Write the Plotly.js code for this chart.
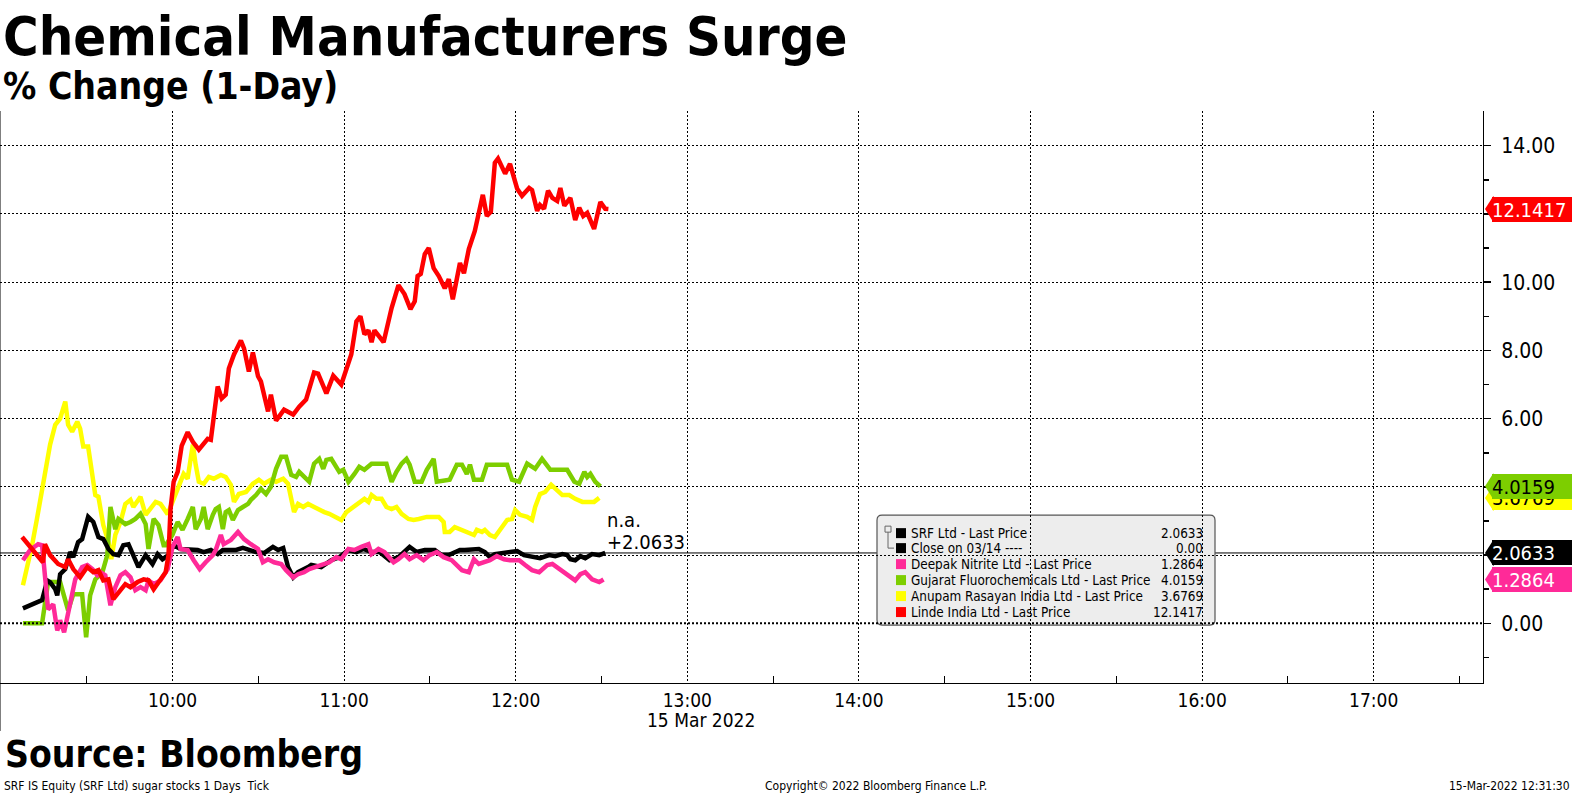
<!DOCTYPE html>
<html>
<head>
<meta charset="utf-8">
<script src="https://cdn.plot.ly/plotly-3.0.1.min.js"></script>
<style>html,body{margin:0;padding:0;background:#fff;}#chart{width:1575px;height:796px;}</style>
</head>
<body>
<div id="chart"></div>
<script>
// ---------- DATA (minutes after 09:00 on 15 Mar 2022, % change) ----------
const srfT = [7.7,11.2,14.4,16.2,17.2,19.0,19.7,20.7,22.5,24.2,25.3,27.0,28.4,30.5,32.3,34.1,35.8,37.6,39.3,41.1,42.8,44.6,46.3,48.1,50.6,53.0,54.8,56.5,58.6,60.4,62.8,65.7,68.8,70.9,73.4,75.8,77.6,79.7,82.2,84.6,86.7,89.2,92.0,95.1,96.9,98.7,100.4,102.2,103.9,105.7,107.4,108.5,112.0,115.5,118.3,121.5,124.3,126.7,129.6,132.4,135.9,139.0,142.9,145.4,148.2,151.7,154.1,156.6,158.7,160.5,162.2,164.7,167.1,169.2,171.0,172.7,175.2,178.0,180.5,182.9,185.7,188.5,191.7,193.8,196.3,198.0,199.1,200.8,202.6,204.3,206.7,209.2,211.3];
const srfV = [0.44,0.56,0.68,1.26,1.21,1.0,0.82,1.44,1.59,2.09,1.94,2.38,2.47,3.12,2.97,2.53,2.47,2.18,2.03,2.0,2.29,2.32,2.0,1.65,2.0,1.74,2.03,1.88,2.0,2.29,2.18,2.18,2.15,2.09,2.15,2.03,2.15,2.15,2.15,2.21,2.15,2.09,2.06,2.24,2.15,2.21,1.65,1.35,1.5,1.56,1.65,1.71,1.65,1.85,1.94,2.15,2.09,2.18,2.09,2.09,1.85,1.94,2.24,2.09,2.15,2.15,2.0,2.0,2.09,2.15,2.15,2.15,2.18,2.09,1.94,2.03,2.06,2.09,2.12,2.0,1.97,1.91,2.0,1.97,2.03,2.0,1.88,1.85,1.97,1.91,2.03,2.0,2.0633];

const deepakT = [7.7,10.2,13.0,14.4,16.5,18.3,19.7,20.7,22.1,23.5,24.9,26.0,28.4,30.2,32.0,33.7,34.8,36.5,38.3,40.0,41.8,43.5,45.3,47.0,48.8,50.6,51.6,53.4,55.8,58.3,60.0,61.8,62.8,65.3,67.4,69.5,71.6,74.1,75.1,76.9,77.9,80.4,82.9,85.0,87.4,89.9,91.6,93.4,95.5,98.0,99.7,102.2,103.9,106.0,107.8,110.2,112.7,114.8,117.3,119.0,121.5,123.6,126.0,128.5,129.6,132.0,134.1,137.3,139.0,141.1,142.9,145.4,147.8,149.9,152.4,154.8,157.6,161.2,163.6,165.4,167.1,169.2,171.0,173.4,175.9,178.0,181.2,183.3,185.7,188.2,191.0,192.8,195.2,198.0,200.8,202.6,204.3,206.7,209.2,210.7];
const deepakV = [1.85,2.15,2.32,2.29,0.41,0.56,-0.21,0.09,-0.26,0.32,0.91,1.29,1.65,1.71,1.59,1.41,1.5,1.41,0.53,1.06,1.41,1.5,1.35,0.97,1.06,0.97,1.26,1.15,1.26,1.59,2.24,2.53,2.18,2.15,1.85,1.59,1.79,2.0,2.15,2.59,2.32,2.44,2.68,2.47,2.32,2.18,1.79,1.88,1.79,1.74,1.56,1.35,1.44,1.5,1.59,1.65,1.74,1.79,1.94,1.88,2.18,2.15,2.24,2.32,2.03,2.18,2.09,1.79,1.88,2.03,1.88,2.0,1.85,2.0,2.09,1.94,1.85,1.56,1.5,1.88,1.74,1.79,1.85,1.97,1.88,1.85,1.85,1.71,1.56,1.5,1.71,1.74,1.59,1.44,1.26,1.44,1.5,1.29,1.21,1.2864];

const gujaratT = [7.7,14.4,16.5,20.7,23.5,25.3,28.4,29.8,31.2,33.0,35.5,37.2,38.3,40.0,41.1,43.5,45.3,47.0,48.8,50.6,51.6,53.4,55.1,56.9,57.6,60.0,61.8,63.5,65.3,67.1,68.1,69.9,70.9,72.3,74.1,75.1,76.2,77.6,78.6,79.7,81.1,82.9,84.6,86.4,87.4,89.2,90.9,92.7,94.4,96.2,98.0,99.7,101.5,103.2,104.3,106.0,107.8,109.5,111.3,112.7,113.8,115.5,117.3,118.3,119.7,121.5,123.6,125.3,127.1,129.6,134.8,136.6,138.3,140.1,141.8,142.9,144.7,147.1,148.9,151.3,152.4,156.9,159.4,161.2,162.9,164.0,165.4,168.2,169.9,177.0,178.7,181.2,184.0,186.8,189.2,192.1,198.0,200.5,202.2,204.0,205.0,206.1,207.8,209.6];
const gujaratV = [0,0,1.21,1.21,0.38,0.85,0.85,-0.41,0.82,1.29,1.5,2.0,3.41,2.76,3.06,2.91,2.97,3.06,3.21,2.91,2.18,3.06,2.88,2.29,2.29,2.6,2.97,2.74,3.06,3.41,2.76,3.06,3.41,2.76,3.18,3.35,3.41,2.76,3.26,3.32,3.03,3.32,3.41,3.5,3.62,3.76,3.94,3.79,4.0,4.53,4.88,4.88,4.35,4.29,4.44,4.29,4.15,4.68,4.82,4.53,4.79,4.82,4.53,4.44,4.5,4.15,4.38,4.59,4.5,4.68,4.68,4.15,4.44,4.68,4.82,4.65,4.15,4.15,4.5,4.82,4.15,4.21,4.65,4.65,4.38,4.65,4.21,4.21,4.65,4.65,4.21,4.15,4.68,4.53,4.82,4.5,4.5,4.15,4.09,4.44,4.29,4.38,4.15,4.0159];

const anupamT = [7.7,10.9,12.6,14.7,17.2,19.0,20.7,22.5,23.5,24.9,26.7,27.7,28.8,30.5,33.0,34.1,35.8,37.6,38.6,40.0,41.8,43.5,45.3,46.3,47.8,48.8,50.6,54.1,55.8,58.3,61.8,63.9,65.3,67.1,68.1,69.2,70.9,72.7,74.4,76.9,78.6,80.4,81.5,83.2,85.7,88.1,90.2,92.0,94.4,96.2,98.7,100.4,102.5,103.9,105.7,107.4,109.5,111.3,113.1,114.8,116.6,119.0,120.8,123.2,125.3,127.1,128.5,129.6,131.3,133.1,134.8,136.6,138.3,140.1,142.5,144.3,146.1,148.9,153.1,154.8,155.2,156.9,158.7,160.5,162.9,165.4,166.4,168.2,169.2,171.0,172.7,175.2,177.0,178.7,179.8,181.5,184.0,185.7,186.8,188.5,190.3,192.4,193.8,196.3,198.7,200.8,203.3,205.7,207.4,209.2];
const anupamV = [1.12,2.29,3.06,4.06,5.24,5.82,6.0,6.5,5.82,5.62,5.91,5.71,5.18,5.18,3.76,3.71,2.88,2.38,1.88,2.59,2.97,3.5,3.62,3.41,3.56,3.71,3.18,3.56,3.5,3.2,3.94,4.38,4.24,5.24,4.65,4.15,4.09,4.29,4.24,4.35,4.29,4.06,3.56,3.79,3.85,4.09,4.21,4.09,4.21,4.15,4.24,4.09,3.26,3.5,3.41,3.5,3.41,3.32,3.26,3.21,3.12,3.03,3.26,3.41,3.5,3.65,3.56,3.76,3.65,3.65,3.41,3.35,3.41,3.21,3.06,3.03,3.06,3.12,3.12,2.97,2.68,2.68,2.82,2.76,2.68,2.59,2.74,2.68,2.74,2.59,2.53,2.82,3.03,3.06,3.32,3.18,3.12,3.03,3.41,3.79,3.85,4.06,3.94,3.76,3.76,3.65,3.56,3.56,3.56,3.6769];

const lindeT = [7.4,14.7,15.4,17.2,20.0,22.5,23.5,25.3,27.7,30.2,32.3,34.1,35.8,37.6,39.3,41.8,43.5,45.3,47.8,49.9,51.6,53.4,55.8,57.6,58.6,59.3,60.4,61.8,63.2,65.3,67.1,69.2,72.3,73.4,75.8,77.2,78.6,79.7,81.5,83.9,85.0,86.7,88.1,89.9,90.9,93.4,94.4,96.2,99.0,102.2,104.3,106.7,109.5,110.9,113.8,116.2,119.0,120.8,122.5,124.3,125.7,127.1,128.5,129.6,130.6,133.8,136.6,139.0,141.1,143.2,144.7,145.7,146.8,148.2,149.6,151.3,153.1,155.2,156.6,158.0,160.5,161.9,163.6,165.7,168.5,169.9,171.3,172.7,173.8,176.3,178.0,180.5,182.2,184.7,185.7,187.5,188.5,189.9,191.3,192.8,194.5,195.6,197.0,199.1,200.8,202.2,203.6,205.0,207.4,209.6,211.3,212.4];
const lindeV = [2.53,1.79,2.32,2.0,1.74,1.65,1.88,1.59,1.35,1.65,1.5,1.56,1.26,1.29,0.71,1.0,1.15,1.06,1.21,1.29,1.26,1.0,1.26,1.5,2.0,3.35,4.15,4.44,5.2,5.6,5.32,5.09,5.41,5.38,6.94,6.59,6.7,7.47,7.88,8.29,8.06,7.38,7.94,7.24,7.09,6.21,6.7,5.94,6.26,6.12,6.35,6.56,7.35,7.32,6.74,7.26,7.0,7.47,7.88,8.85,9.0,8.47,8.59,8.24,8.59,8.24,9.24,9.91,9.65,9.21,9.44,10.18,10.24,10.82,11.0,10.41,10.18,9.82,10.09,9.5,10.56,10.26,10.97,11.5,12.56,11.94,12.06,13.5,13.62,13.18,13.47,12.74,12.53,12.76,12.7,12.09,12.26,12.15,12.68,12.47,12.38,12.76,12.24,12.47,11.82,12.18,11.94,12.03,11.56,12.35,12.15,12.1417];

const seriesNames = ['SRF Ltd - Last Price','Close on 03/14 ----','Deepak Nitrite Ltd - Last Price','Gujarat Fluorochemicals Ltd - Last Price','Anupam Rasayan India Ltd - Last Price','Linde India Ltd - Last Price'];
const seriesValues = ['2.0633','0.00','1.2864','4.0159','3.6769','12.1417'];
const lastSRF = 2.0633, lastDeepak = 1.2864, lastGujarat = 4.0159, lastAnupam = 3.6769, lastLinde = 12.1417;
const closeLevel = 0;
const hourTicks = ['10:00','11:00','12:00','13:00','14:00','15:00','16:00','17:00'];
const halfHourTicks = ['09:30','10:30','11:30','12:30','13:30','14:30','15:30','16:30','17:30'];
const yTickVals = [0,2,4,6,8,10,12,14];
const yTickText = ['0.00','','','6.00','8.00','10.00','','14.00'];
const yMinorVals = [-1,1,3,5,7,9,11,13];

// ---------- helpers ----------
const DAY = '2022-03-15';
const t0 = Date.UTC(2022,2,15,9,0,0);
function toTime(m){ return new Date(t0 + m*60000).toISOString().slice(0,19).replace('T',' '); }
const PW = 1483, PT = 110.5, PB = 683;
function xp(px){ return px/PW; }
function yp(py){ return (PB-py)/(PB-PT); }
const FONT = '"DejaVu Sans Condensed", "DejaVu Sans", sans-serif';
const PXU = 34.15; // pixels per y unit

const COL = {srf:'#000000', deepak:'#ff2a98', gujarat:'#7dce00', anupam:'#ffff00', linde:'#ff0000'};

function tr(T, V, color){
  return {type:'scatter', mode:'lines', x:T.map(toTime), y:V, line:{color:color, width:4.5}, hoverinfo:'skip'};
}
const data = [
  tr(anupamT, anupamV, COL.anupam),
  tr(gujaratT, gujaratV, COL.gujarat),
  tr(srfT, srfV, COL.srf),
  tr(deepakT, deepakV, COL.deepak),
  tr(lindeT, lindeV, COL.linde)
];

const shapes = [];
const annotations = [];

// last price line
shapes.push({type:'line', layer:'below', xref:'paper', yref:'y', x0:0, x1:1, y0:lastSRF, y1:lastSRF, line:{color:'#000', width:1}});
// legend box
(function(){
  const x0=xp(877), x1=xp(1215), y0=yp(625), y1=yp(515);
  const rx=5/PW, ry=5/(PB-PT);
  const p = `M ${x0+rx},${y1} L ${x1-rx},${y1} Q ${x1},${y1} ${x1},${y1-ry} L ${x1},${y0+ry} Q ${x1},${y0} ${x1-rx},${y0} L ${x0+rx},${y0} Q ${x0},${y0} ${x0},${y0+ry} L ${x0},${y1-ry} Q ${x0},${y1} ${x0+rx},${y1} Z`;
  shapes.push({type:'path', layer:'below', xref:'paper', yref:'paper', path:p, fillcolor:'#ededed', line:{color:'#555', width:1.2}});
})();
// close on 03/14 line
shapes.push({type:'line', layer:'above', xref:'paper', yref:'y', x0:0, x1:1, y0:closeLevel, y1:closeLevel, line:{color:'#000', width:2, dash:'2px,2px'}});
// left border line
shapes.push({type:'line', xref:'paper', yref:'paper', x0:0, x1:0, y0:yp(731), y1:1, line:{color:'#000', width:1}});

// legend rows
const rowY = [533,548,564,580,596,612];
const rowCol = [COL.srf, COL.srf, COL.deepak, COL.gujarat, COL.anupam, COL.linde];
seriesNames.forEach((n,i)=>{
  const py=rowY[i];
  shapes.push({type:'rect', xref:'paper', yref:'paper', x0:xp(896), x1:xp(906), y0:yp(py+5), y1:yp(py-5), fillcolor:rowCol[i], line:{width:0}});
  annotations.push({xref:'paper', yref:'paper', x:xp(909), y:yp(py), xanchor:'left', yanchor:'middle', text:n, showarrow:false, font:{family:FONT, size:13.4, color:'#000'}});
  annotations.push({xref:'paper', yref:'paper', x:xp(1205), y:yp(py), xanchor:'right', yanchor:'middle', text:seriesValues[i], showarrow:false, font:{family:FONT, size:13.4, color:'#000'}});
});
// tree icon
shapes.push({type:'rect', xref:'paper', yref:'paper', x0:xp(885), x1:xp(891), y0:yp(532), y1:yp(526), line:{color:'#666', width:1}, fillcolor:'rgba(0,0,0,0)'});
shapes.push({type:'line', xref:'paper', yref:'paper', x0:xp(888), x1:xp(888), y0:yp(548), y1:yp(532), line:{color:'#666', width:1}});
shapes.push({type:'line', xref:'paper', yref:'paper', x0:xp(888), x1:xp(894), y0:yp(548), y1:yp(548), line:{color:'#666', width:1}});

// right-side value tags
const HH = 12.5/PXU;
function tag(v, bg, fg){
  shapes.push({type:'path', xref:'paper', yref:'y', path:`M ${xp(1485)},${v} L ${xp(1493)},${v+HH} L ${xp(1494)},${v+HH} L ${xp(1494)},${v-HH} L ${xp(1493)},${v-HH} Z`, fillcolor:bg, line:{width:0}});
  annotations.push({xref:'paper', yref:'y', x:xp(1492), y:v, xanchor:'left', yanchor:'middle', text:String(v), showarrow:false, width:80, height:25, align:'left', bgcolor:bg, borderpad:0, borderwidth:0, font:{family:FONT, size:20, color:fg}});
}
tag(lastLinde, COL.linde, '#ffffff');
tag(lastAnupam, COL.anupam, '#000000');
tag(lastGujarat, COL.gujarat, '#000000');
tag(lastSRF, COL.srf, '#ffffff');
tag(lastDeepak, COL.deepak, '#ffffff');

// n.a. label
annotations.push({xref:'paper', yref:'paper', x:xp(605), y:yp(520), xanchor:'left', yanchor:'middle', text:'n.a.', showarrow:false, font:{family:FONT, size:20, color:'#000'}});
annotations.push({xref:'paper', yref:'paper', x:xp(605), y:yp(542), xanchor:'left', yanchor:'middle', text:'+' + lastSRF.toFixed(4), showarrow:false, font:{family:FONT, size:20, color:'#000'}});

// titles & footers
annotations.push({xref:'paper', yref:'paper', x:xp(1), y:yp(36), xanchor:'left', yanchor:'middle', text:'Chemical Manufacturers Surge', showarrow:false, font:{family:FONT, size:54, weight:700, color:'#000'}});
annotations.push({xref:'paper', yref:'paper', x:xp(1), y:yp(86), xanchor:'left', yanchor:'middle', text:'% Change (1-Day)', showarrow:false, font:{family:FONT, size:37, weight:700, color:'#000'}});
annotations.push({xref:'paper', yref:'paper', x:xp(3), y:yp(755), xanchor:'left', yanchor:'middle', text:'Source: Bloomberg', showarrow:false, font:{family:FONT, size:37, weight:700, color:'#000'}});
annotations.push({xref:'paper', yref:'paper', x:xp(701), y:yp(720), xanchor:'center', yanchor:'middle', text:'15 Mar 2022', showarrow:false, font:{family:FONT, size:19, color:'#000'}});
annotations.push({xref:'paper', yref:'paper', x:xp(2), y:yp(786), xanchor:'left', yanchor:'middle', text:'SRF IS Equity (SRF Ltd) sugar stocks 1 Days  Tick', showarrow:false, font:{family:FONT, size:12, color:'#000'}});
annotations.push({xref:'paper', yref:'paper', x:xp(876), y:yp(786), xanchor:'center', yanchor:'middle', text:'Copyright\u00a9 2022 Bloomberg Finance L.P.', showarrow:false, font:{family:FONT, size:12, color:'#000'}});
annotations.push({xref:'paper', yref:'paper', x:xp(1572), y:yp(786), xanchor:'right', yanchor:'middle', text:'15-Mar-2022 12:31:30', showarrow:false, font:{family:FONT, size:12, color:'#000'}});

const layout = {
  width:1575, height:796,
  margin:{l:0, r:1575-PW, t:PT, b:796-PB, pad:0},
  paper_bgcolor:'#fff', plot_bgcolor:'#fff',
  showlegend:false,
  font:{family:FONT, color:'#000'},
  xaxis:{
    type:'date', range:[toTime(-0.31), toTime(518.2)],
    tickmode:'array', tickvals:hourTicks.map(h=>DAY+' '+h+':00'), ticktext:hourTicks,
    showgrid:true, gridcolor:'#000', gridwidth:1, griddash:'2px,2px',
    showline:true, linecolor:'#000', linewidth:1, ticks:'', zeroline:false,
    tickfont:{family:FONT, size:19, color:'#000'},
    minor:{tickmode:'array', tickvals:halfHourTicks.map(h=>DAY+' '+h+':00'), ticks:'inside', ticklen:7, tickcolor:'#000', showgrid:false},
    fixedrange:true
  },
  yaxis:{
    side:'right', range:[-1.748, 15.016],
    tickmode:'array', tickvals:yTickVals, ticktext:yTickText,
    showgrid:true, gridcolor:'#000', gridwidth:1, griddash:'2px,2px', zeroline:false,
    showline:true, linecolor:'#000', linewidth:1,
    ticks:'outside', ticklen:7, tickwidth:1.5, tickcolor:'#000', ticklabelstandoff:6,
    tickfont:{family:FONT, size:21, color:'#000'},
    minor:{tickmode:'array', tickvals:yMinorVals, ticks:'outside', ticklen:5, tickcolor:'#000', showgrid:false},
    fixedrange:true
  },
  shapes:shapes,
  annotations:annotations
};
Plotly.newPlot('chart', data, layout, {displayModeBar:false, staticPlot:true});
</script>
</body>
</html>
